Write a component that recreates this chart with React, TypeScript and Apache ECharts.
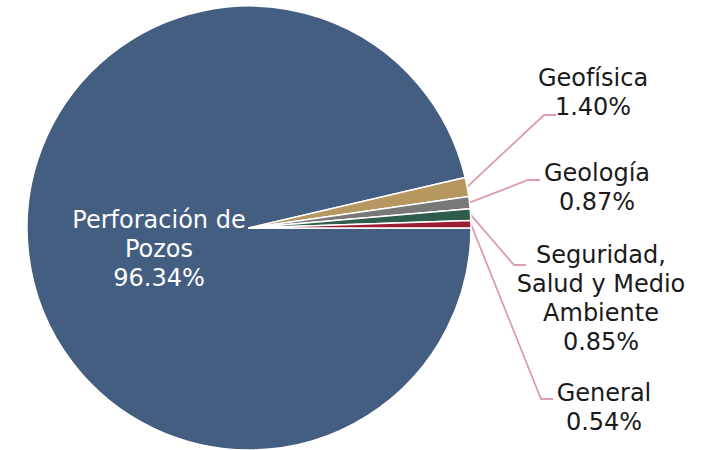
import React, { useEffect, useRef } from "react";
import * as echarts from "echarts";

const categories = [
  "Perforación de\nPozos",
  "Geofísica",
  "Geología",
  "Seguridad,\nSalud y Medio\nAmbiente",
  "General",
];
const percentValues = [96.34, 1.4, 0.87, 0.85, 0.54];
const sliceColors = ["#445e82", "#b5975f", "#787878", "#2f5d4b", "#9a1d35"];

// layout: label text centres and leader-line end points
const textCentres = [
  [159, 249],
  [593, 92],
  [597, 187],
  [601, 298],
  [604, 407],
];
const leaderEnds = [
  [0, 0],
  [556, 115],
  [540, 180],
  [526, 265],
  [553, 399],
];
const elbowLength = 12;

export default function App() {
  const ref = useRef<HTMLDivElement>(null);
  useEffect(() => {
    document.body.style.margin = "0";
    const chart = echarts.init(ref.current!, null, { renderer: "svg" });
    const font = "DejaVu Sans";
    chart.setOption({
      animation: false,
      backgroundColor: "#ffffff",
      series: [
        {
          type: "pie",
          center: [249, 228],
          radius: 222,
          startAngle: 0,
          clockwise: true,
          avoidLabelOverlap: false,
          itemStyle: { borderColor: "#ffffff", borderWidth: 1.5 },
          label: {
            show: true,
            position: "outside",
            fontFamily: font,
            fontSize: 24,
            lineHeight: 29,
            color: "#1a1a1a",
            align: "center",
            formatter: (p: any) => `${p.name}\n${p.value.toFixed(2)}%`,
          },
          labelLine: {
            show: true,
            length: 20,
            length2: 11,
            lineStyle: { color: "#dd9caf", width: 1.8 },
          },
          labelLayout: (params: any) => {
            const i = params.dataIndex;
            const out: any = {
              x: textCentres[i][0],
              y: textCentres[i][1],
              align: "center",
              verticalAlign: "middle",
            };
            if (i > 0 && params.labelLinePoints) {
              const start = params.labelLinePoints[0];
              const end = leaderEnds[i];
              out.labelLinePoints = [
                [start[0], start[1]],
                [end[0] - elbowLength, end[1]],
                [end[0], end[1]],
              ];
            }
            return out;
          },
          data: categories.map((name, i) => ({
            name,
            value: percentValues[i],
            itemStyle: { color: sliceColors[i] },
            ...(i === 0
              ? {
                  label: { position: "inside", color: "#ffffff" },
                  labelLine: { show: false },
                }
              : {}),
          })),
        },
      ],
    });
    return () => chart.dispose();
  }, []);
  return (
    <div
      ref={ref}
      style={{ position: "absolute", left: 0, top: 0, width: 712, height: 450 }}
    />
  );
}
